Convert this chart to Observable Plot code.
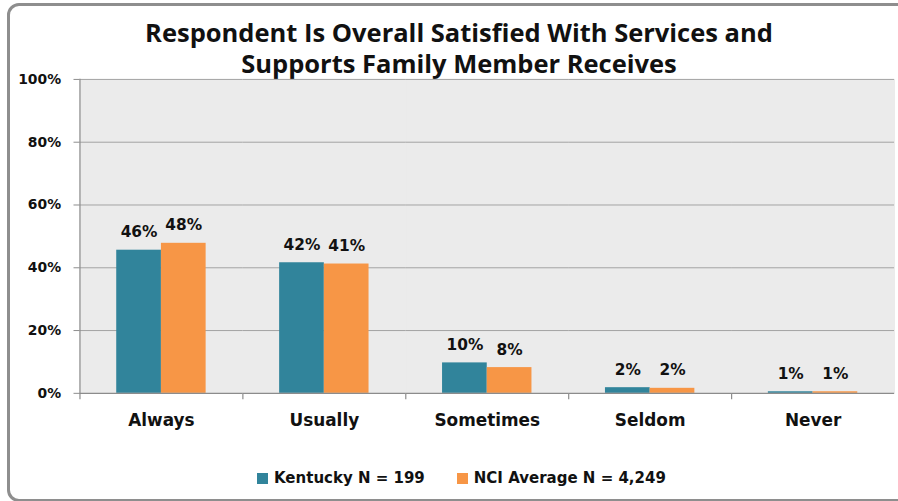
<!DOCTYPE html>
<html>
<head>
<meta charset="utf-8">
<script src="https://cdn.jsdelivr.net/npm/d3@7"></script>
<script src="https://cdn.jsdelivr.net/npm/@observablehq/plot@0.6"></script>
<style>
  html, body { margin: 0; padding: 0; background: #fff; width: 898px; height: 501px; overflow: hidden; }
  #wrap { position: relative; width: 898px; height: 501px; overflow: hidden; }
  #border { position: absolute; left: 7px; top: 3px; width: 900px; height: 493px; border: 3px solid #8e8e8e; border-radius: 12px; box-sizing: content-box; }
  #title { position: relative; height: 70px; text-align: center; font-family: "Open Sans", sans-serif; font-weight: bold; font-size: 25.5px; line-height: 31px; color: #111; box-sizing: border-box; }
  #title div { padding-left: 20px; white-space: nowrap; }
  #chart { position: relative; height: 400px; }
  #chart svg { display: block; }
  #legend { position: relative; display: flex; justify-content: flex-start; align-items: center; font-family: "DejaVu Sans", sans-serif; font-weight: bold; font-size: 15px; color: #111; height: 14px; line-height: 14px; }
  .item { display: flex; align-items: center; }
  .sw { width: 11px; height: 11px; display: inline-block; margin-right: 6px; }
</style>
</head>
<body>
<div id="wrap">
  <div id="border"></div>
  <div id="title"></div>
  <div id="chart"></div>
  <div id="legend"></div>
</div>
<script>
const titleLines = ["Respondent Is Overall Satisfied With Services and", "Supports Family Member Receives"];
const categories = ["Always", "Usually", "Sometimes", "Seldom", "Never"];
const seriesNames = ["Kentucky N = 199", "NCI Average N = 4,249"];
const kentucky = [45.6, 41.6, 9.7, 1.8, 0.5];
const nciAverage = [47.8, 41.2, 8.2, 1.6, 0.5];
const yTicks = [0, 20, 40, 60, 80, 100];
const colors = ["#31849b", "#f79646"];

const data = [];
categories.forEach((c, i) => {
  data.push({category: c, series: seriesNames[0], value: kentucky[i]});
  data.push({category: c, series: seriesNames[1], value: nciAverage[i]});
});

const t = document.getElementById("title");
t.style.paddingTop = "17px";
titleLines.forEach(l => { const d = document.createElement("div"); d.textContent = l; t.appendChild(d); });

const tickSymbol = { draw(ctx) { ctx.moveTo(0, 0); ctx.lineTo(0, 6); } };
const axisColor = "#8c8c8c";

const plot = Plot.plot({
  width: 904,
  height: 400,
  marginLeft: 79,
  marginRight: 3,
  marginTop: 9,
  marginBottom: 75,
  style: { background: "transparent", fontFamily: "DejaVu Sans, sans-serif", fontWeight: "bold", color: "#111", overflow: "visible" },
  fx: { domain: categories, padding: 0 },
  x: { domain: seriesNames, paddingInner: 0, paddingOuter: 0.79, axis: null },
  y: { domain: [0, 100] },
  color: { domain: seriesNames, range: colors },
  marks: [
    Plot.frame({ fill: "#ebebeb", stroke: "#ebebeb", strokeWidth: 1 }),
    Plot.gridY({ ticks: yTicks.slice(1), stroke: "#a2a2a2", strokeOpacity: 1, strokeWidth: 1 }),
    Plot.barY(data, { fx: "category", x: "series", y: "value", fill: "series" }),
    Plot.ruleY([0], { stroke: axisColor, strokeWidth: 1.2 }),
    Plot.frame({ anchor: "left", fx: () => categories[0], stroke: axisColor, strokeWidth: 1.2 }),
    Plot.dot(categories, { fx: d => d, frameAnchor: "bottom-left", symbol: tickSymbol, stroke: axisColor, strokeWidth: 1.2 }),
    Plot.text(data, { fx: "category", x: "series", y: "value", text: d => Math.round(d.value) + "%", dy: -18, fontSize: 15.5, fontWeight: "bold", fill: "#111" }),
    Plot.axisY({ ticks: yTicks, tickFormat: d => d + "%", tickSize: 6, tickPadding: 13, stroke: axisColor, fill: "#111", fontSize: 14, fontWeight: "bold", label: null }),
    Plot.axisFx({ anchor: "bottom", tickSize: 0, tickPadding: 21, fontSize: 17, fontWeight: "bold", fill: "#111", label: null })
  ]
});
document.getElementById("chart").appendChild(plot);

const lg = document.getElementById("legend");
lg.style.paddingLeft = "257px";
lg.style.marginTop = "1px";
seriesNames.forEach((s, i) => {
  const it = document.createElement("span");
  it.className = "item";
  if (i > 0) it.style.marginLeft = "32px";
  const sw = document.createElement("span");
  sw.className = "sw";
  sw.style.background = colors[i];
  const tx = document.createElement("span");
  tx.textContent = s;
  it.appendChild(sw); it.appendChild(tx);
  lg.appendChild(it);
});
</script>
</body>
</html>
